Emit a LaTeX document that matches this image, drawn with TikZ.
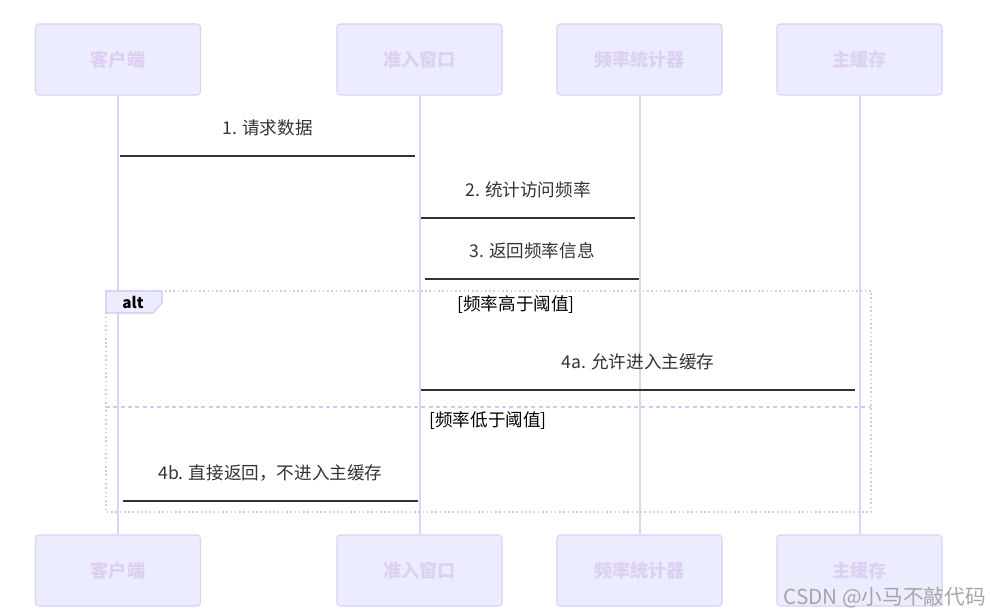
\documentclass[tikz,border=0pt]{standalone}
\usepackage{fontspec}
\setmainfont{Noto Sans CJK SC}
\definecolor{boxfill}{HTML}{ECECFF}
\definecolor{boxline}{HTML}{DCD0F5}
\definecolor{boxtext}{HTML}{DDD0F2}
\definecolor{life}{HTML}{DDD3F4}
\definecolor{msg}{HTML}{333333}
\definecolor{frm}{HTML}{D2C7F0}
\begin{document}
\begin{tikzpicture}[x=0.75pt,y=-0.75pt,
  actor/.style={draw=boxline,fill=boxfill,rounded corners=2.5pt,line width=0.8pt,
    minimum width=165*0.75pt,minimum height=71*0.75pt,inner sep=0pt,
    text=boxtext,font=\fontsize{13.6}{15}\selectfont\bfseries},
  lifeline/.style={draw=life,line width=1.5pt},
  message/.style={draw=msg,line width=1.1pt},
  mlabel/.style={font=\fontsize{13.2}{15}\selectfont,text=msg,inner sep=0pt,midway,yshift=21pt},
  cond/.style={font=\fontsize{13.2}{15}\selectfont,text=black,inner sep=0pt},
  frame/.style={draw=frm,line width=1.2pt,dotted}
]
\useasboundingbox (0,0) rectangle (990,616);
% actors
\node[actor] (t1) at (118,59.5) {客户端};
\node[actor] (t2) at (419.5,59.5) {准入窗口};
\node[actor] (t3) at (639.5,59.5) {频率统计器};
\node[actor] (t4) at (859.5,59.5) {主缓存};
\node[actor] (b1) at (118,570.5) {客户端};
\node[actor] (b2) at (419.5,570.5) {准入窗口};
\node[actor] (b3) at (639.5,570.5) {频率统计器};
\node[actor] (b4) at (859.5,570.5) {主缓存};
% lifelines
\foreach \i in {1,...,4}{\draw[lifeline] (t\i.south) -- (b\i.north);}
% alt frame
\draw[frame] (106,291) rectangle (871,512);
\draw[frame,dashed,dash pattern=on 3pt off 2.5pt] (106,407) -- (871,407);
\draw[draw=frm,fill=boxfill,line width=0.8pt] (106,291) -- (162,291) -- (162,303) -- (153,313) -- (106,313) -- cycle;
\node[font=\fontsize{11.5}{13}\selectfont\bfseries,inner sep=0pt] (altlbl) at (133,302) {alt};
\node[cond] (c1) at (516,305) {[频率高于阈值]};
\node[cond] (c2) at (488,421) {[频率低于阈值]};
% message end points
\coordinate (m1a) at (120,156); \coordinate (m1b) at (415,156);
\coordinate (m2a) at (421,218); \coordinate (m2b) at (635,218);
\coordinate (m3a) at (425,279); \coordinate (m3b) at (639,279);
\coordinate (m4a) at (421,390); \coordinate (m4b) at (855,390);
\coordinate (m5a) at (418,501); \coordinate (m5b) at (123,501);
\draw[message] (m1a) -- node[mlabel] (l1) {1. 请求数据} (m1b);
\draw[message] (m2a) -- node[mlabel] (l2) {2. 统计访问频率} (m2b);
\draw[message] (m3b) -- node[mlabel] (l3) {3. 返回频率信息} (m3a);
\draw[message] (m4a) -- node[mlabel] (l4) {4a. 允许进入主缓存} (m4b);
\draw[message] (m5a) -- node[mlabel] (l5) {4b. 直接返回，不进入主缓存} (m5b);
% watermark
\node[font=\fontsize{15.5}{17}\selectfont,text=black!35,anchor=east,inner sep=0pt] (wm) at (986,598) {CSDN @小马不敲代码};
\end{tikzpicture}
\end{document}
